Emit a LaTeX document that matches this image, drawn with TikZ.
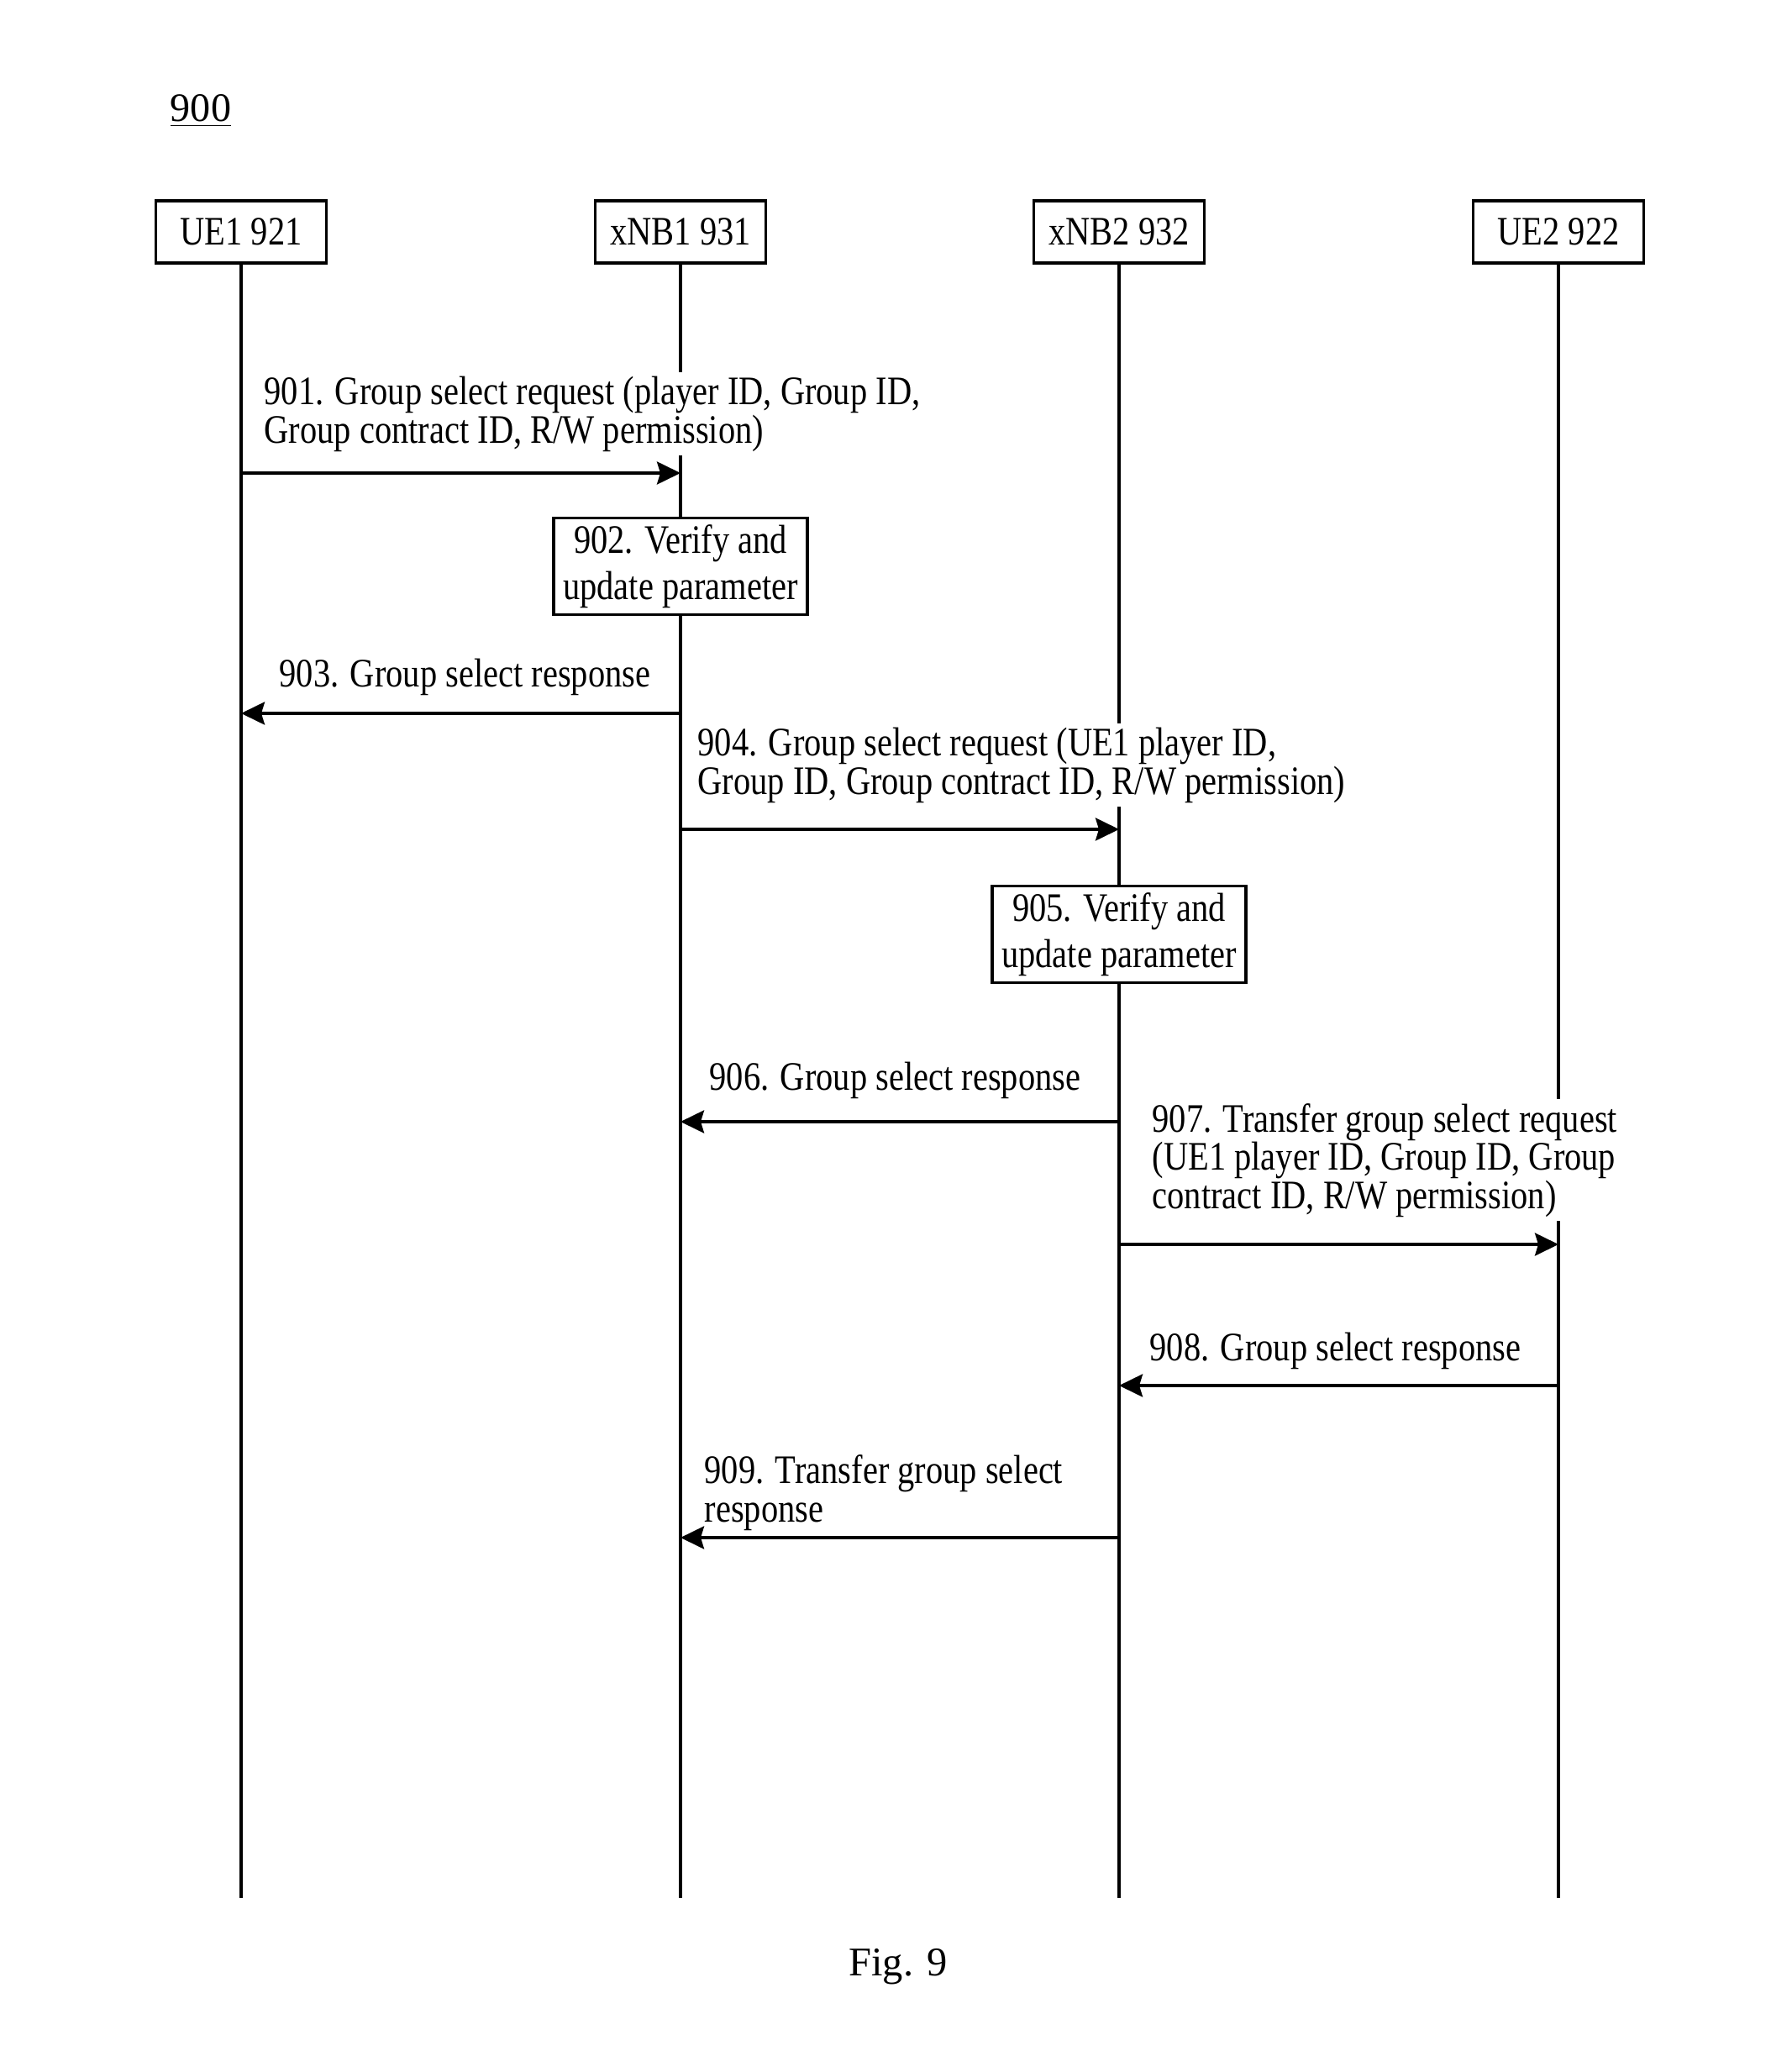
\documentclass[tikz,border=0pt]{standalone}
\usepackage{fontspec}
\setmainfont{Liberation Serif}
\newfontfamily\condfont{Liberation Serif}[FakeStretch=0.84]
\usetikzlibrary{arrows.meta, positioning}

\begin{document}
\begin{tikzpicture}[
      entity/.style={draw, line width=1pt, minimum width=2.03cm, minimum height=0.74cm, inner sep=0pt, font=\condfont\fontsize{13.7pt}{12.9pt}\selectfont},
      procbox/.style={draw, fill=white, line width=1pt, minimum width=3.02cm, minimum height=1.15cm, inner sep=0pt, align=center, font=\condfont\fontsize{13.7pt}{15.6pt}\selectfont},
      msglabel/.style={anchor=south west, fill=white, inner sep=0.05cm, align=left, font=\condfont\fontsize{13.7pt}{12.9pt}\selectfont},
      lifeline/.style={line width=1pt},
      msg/.style={-{Stealth[length=0.28cm, width=0.27cm, inset=0.04cm]}, line width=1.05pt}
    ]
      \useasboundingbox (0,0) rectangle (21.32,-24.66);

      % Figure reference
      \node[font=\fontsize{13.7pt}{16pt}\selectfont] (ref) at (2.39,-1.32) {\underline{900}};

      % Entities
      \node[entity] (ue1) at (2.87,-2.76) {UE1 921};
      \node[entity] (xnb1) at (8.10,-2.76) {xNB1 931};
      \node[entity] (xnb2) at (13.32,-2.76) {xNB2 932};
      \node[entity] (ue2) at (18.55,-2.76) {UE2 922};

      % Lifelines
      \coordinate (end) at (0,-22.59);
      \foreach \e in {ue1, xnb1, xnb2, ue2}
        \draw[lifeline] (\e) -- (\e |- end);

      % Message heights
      \coordinate (m901) at (0,-5.63);
      \coordinate (m903) at (0,-8.49);
      \coordinate (m904) at (0,-9.87);
      \coordinate (m906) at (0,-13.35);
      \coordinate (m907) at (0,-14.81);
      \coordinate (m908) at (0,-16.49);
      \coordinate (m909) at (0,-18.30);

      % Processing steps
      \node[procbox] (p902) at (8.10,-6.74) {\raisebox{-0.03cm}{902. Verify and}\\\raisebox{-0.03cm}{update parameter}};
      \node[procbox] (p905) at (13.32,-11.12) {\raisebox{-0.03cm}{905. Verify and}\\\raisebox{-0.03cm}{update parameter}};

      % Message labels
      \node[msglabel] (l901) at (3.09,-5.43) {901. Group select request (player ID, Group ID,\\Group contract ID, R/W permission)};
      \node[msglabel] (l903) at (3.27,-8.33) {903. Group select response};
      \node[msglabel] (l904) at (8.25,-9.61) {904. Group select request (UE1 player ID,\\Group ID, Group contract ID, R/W permission)};
      \node[msglabel] (l906) at (8.39,-13.13) {906. Group select response};
      \node[msglabel] (l907) at (13.66,-14.54) {907. Transfer group select request\\(UE1 player ID, Group ID, Group\\contract ID, R/W permission)};
      \node[msglabel] (l908) at (13.63,-16.35) {908. Group select response};
      \node[msglabel] (l909) at (8.33,-18.27) {909. Transfer group select\\response};

      % Arrows
      \draw[msg] (ue1 |- m901) -- (xnb1 |- m901);
      \draw[msg] (xnb1 |- m903) -- (ue1 |- m903);
      \draw[msg] (xnb1 |- m904) -- (xnb2 |- m904);
      \draw[msg] (xnb2 |- m906) -- (xnb1 |- m906);
      \draw[msg] (xnb2 |- m907) -- (ue2 |- m907);
      \draw[msg] (ue2 |- m908) -- (xnb2 |- m908);
      \draw[msg] (xnb2 |- m909) -- (xnb1 |- m909);

      % Caption
      \node[font=\fontsize{13.8pt}{16pt}\selectfont] (caption) at (10.69,-23.41) {Fig. 9};
    \end{tikzpicture}
\end{document}
